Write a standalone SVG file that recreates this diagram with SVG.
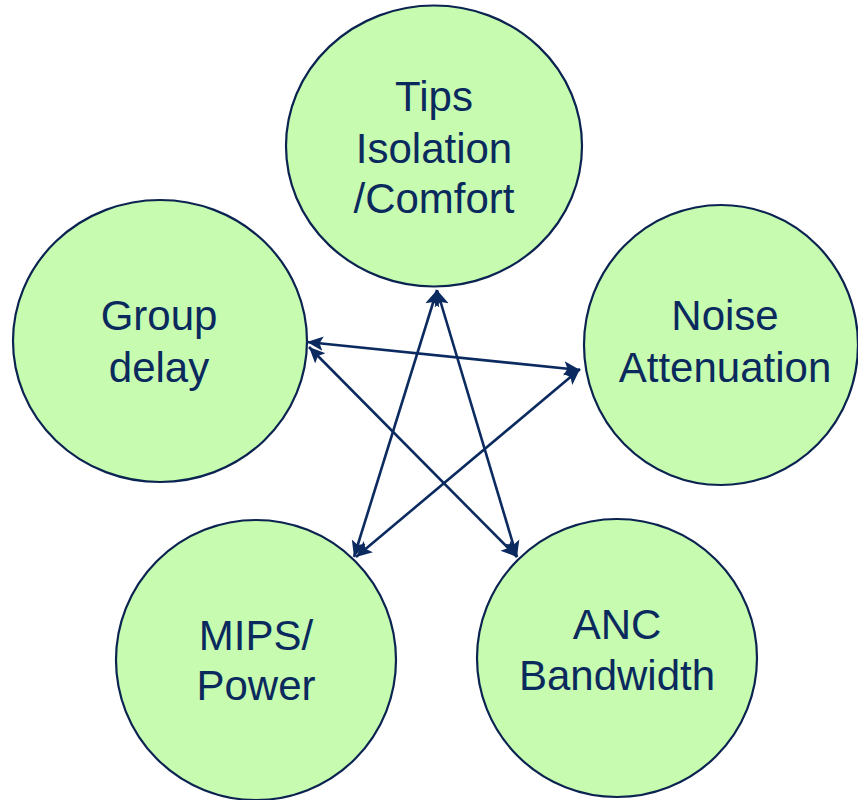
<svg xmlns="http://www.w3.org/2000/svg" width="858" height="800" viewBox="0 0 858 800">
  <style>
    .node ellipse { fill: #c6fbb0; stroke: #0b2350; stroke-width: 2.2; }
    .node text { font-family: "Liberation Sans", Arial, sans-serif; font-size: 42px; fill: #0a2a5e; text-anchor: middle; }
    .edge { stroke: #0b2a5f; stroke-width: 2.6; fill: none; marker-start: url(#head); marker-end: url(#head); }
  </style>
  <defs>
    <marker id="head" viewBox="0 0 10 10" refX="10" refY="5" markerWidth="6.2" markerHeight="6.2" orient="auto-start-reverse" markerUnits="strokeWidth">
      <path d="M0,0.5 L10,5 L0,9.5 L2.2,5 Z" fill="#0b2a5f"/>
    </marker>
  </defs>
  <rect width="858" height="800" fill="#ffffff"/>

  <g id="node-tips" class="node">
    <ellipse cx="434" cy="146" rx="148" ry="140.5"/>
    <text x="434" y="111">Tips</text>
    <text x="434" y="163">Isolation</text>
    <text x="434" y="213">/Comfort</text>
  </g>

  <g id="node-group-delay" class="node">
    <ellipse cx="160" cy="341" rx="147" ry="141"/>
    <text x="159" y="330">Group</text>
    <text x="159" y="382">delay</text>
  </g>

  <g id="node-noise-attenuation" class="node">
    <ellipse cx="721" cy="345" rx="137" ry="140"/>
    <text x="725" y="330">Noise</text>
    <text x="725" y="382">Attenuation</text>
  </g>

  <g id="node-mips-power" class="node">
    <ellipse cx="256" cy="660" rx="140" ry="140"/>
    <text x="256" y="650">MIPS/</text>
    <text x="256" y="700">Power</text>
  </g>

  <g id="node-anc-bandwidth" class="node">
    <ellipse cx="617" cy="658" rx="140" ry="139"/>
    <text x="617" y="639">ANC</text>
    <text x="617" y="690">Bandwidth</text>
  </g>

  <g id="connectors">
    <line class="edge" x1="437" y1="290" x2="354" y2="557"/>
    <line class="edge" x1="437" y1="290" x2="517" y2="557"/>
    <line class="edge" x1="307" y1="342" x2="580" y2="370"/>
    <line class="edge" x1="309" y1="347" x2="517" y2="557"/>
    <line class="edge" x1="356" y1="557" x2="580" y2="369"/>
  </g>
</svg>
